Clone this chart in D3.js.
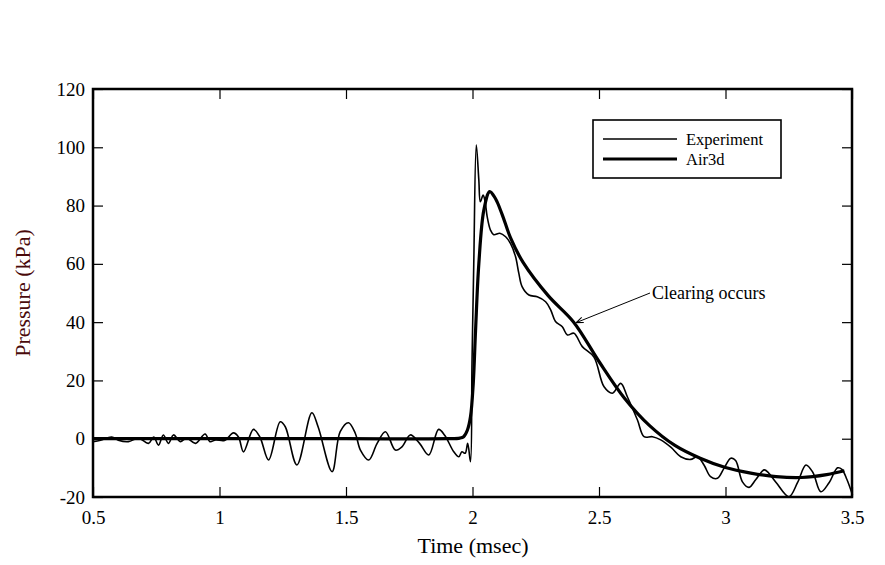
<!DOCTYPE html>
<html lang="en">
<head>
<meta charset="utf-8">
<script src="https://cdn.jsdelivr.net/npm/d3@7"></script>
<style>
  body { margin: 0; background: #fff; }
  text { font-family: "Liberation Serif", "Times New Roman", serif; }
  .tick text { font-size: 19px; fill: #000; }
  .tick line { stroke: #000; stroke-width: 1.2; }
</style>
</head>
<body>
<div id="chart"></div>
<script>
// time (msec) / pressure (kPa)
var expT = [0.5, 0.53, 0.574, 0.6, 0.64, 0.68, 0.719, 0.74, 0.759, 0.778, 0.798, 0.818, 0.845, 0.87, 0.905, 0.943, 0.962, 0.985, 1.02, 1.055, 1.075, 1.095, 1.134, 1.16, 1.194, 1.24, 1.26, 1.306, 1.365, 1.39, 1.445, 1.477, 1.51, 1.537, 1.557, 1.59, 1.623, 1.656, 1.695, 1.722, 1.754, 1.79, 1.827, 1.866, 1.89, 1.926, 1.946, 1.958, 1.971, 1.981, 1.992, 1.998, 2.005, 2.015, 2.025, 2.031, 2.042, 2.05, 2.058, 2.071, 2.084, 2.108, 2.131, 2.15, 2.17, 2.183, 2.196, 2.223, 2.256, 2.289, 2.309, 2.328, 2.355, 2.375, 2.401, 2.434, 2.48, 2.52, 2.553, 2.586, 2.612, 2.652, 2.678, 2.711, 2.744, 2.785, 2.823, 2.862, 2.889, 2.915, 2.941, 2.968, 2.995, 3.021, 3.04, 3.067, 3.093, 3.12, 3.153, 3.17, 3.2, 3.251, 3.285, 3.318, 3.345, 3.377, 3.41, 3.443, 3.46, 3.48, 3.502];
var expP = [-1, -0.5, 0.6, -0.5, -1, 0.2, -1.6, 0.6, -2.2, 1.3, -1.6, 1.3, -1, 0.2, -1.6, 1.6, -1, -0.4, -0.6, 2, 0.6, -4.5, 3.2, 0.5, -7.3, 5.8, 4.1, -9, 8.9, 4, -11.3, 2.4, 5.5, 1.8, -3.9, -7.3, -1.6, 2.4, -3.9, -2.7, 1.3, -1.5, -5.6, 3.2, 1.2, -4.5, -6.2, -4.5, -5, -1.6, -7.9, 25.9, 60, 100.8, 88.8, 81.3, 83.6, 81.3, 76.2, 71.6, 70, 70.5, 69.3, 67, 62.5, 56.8, 52.2, 49.3, 48.7, 47, 44.2, 40.2, 38.4, 35.6, 36.2, 31.6, 28, 17.8, 15.6, 19, 14.4, 6.4, 0.7, 0.7, -0.4, -3, -6.2, -7.1, -6.2, -9, -13, -13.6, -10, -6.7, -7.5, -14.8, -16.7, -14, -10.7, -11.7, -15, -19.9, -15, -9, -11.5, -18.2, -15, -10, -10.5, -14, -19.3];

var airT = [0.5, 1.0, 1.5, 1.9, 1.95, 1.965, 1.98, 1.992, 2.003, 2.012, 2.025, 2.045, 2.068, 2.09, 2.117, 2.15, 2.2, 2.3, 2.4, 2.5, 2.6, 2.7, 2.8, 2.9, 3.0, 3.1, 3.2, 3.3, 3.4, 3.47];
var airP = [0, 0, 0, 0, 0.2, 0.7, 3, 7.5, 19, 37, 60, 78.5, 84.8, 82.5, 77, 69, 60.5, 49, 40, 26.5, 14, 4.5, -2.3, -6.7, -9.9, -11.8, -13, -13.3, -12.3, -11];

var xTicks = [0.5, 1, 1.5, 2, 2.5, 3, 3.5];
var yTicks = [-20, 0, 20, 40, 60, 80, 100, 120];
var seriesNames = ["Experiment", "Air3d"];

var W = 885, H = 565;
var plot = {left: 93, right: 852, top: 89, bottom: 497};

var svg = d3.select("#chart").append("svg")
  .attr("width", W).attr("height", H);

var x = d3.scaleLinear().domain([0.5, 3.5]).range([plot.left, plot.right]);
var y = d3.scaleLinear().domain([-20, 120]).range([plot.bottom, plot.top]);

var plain = function(d){ return String(d); };

// axes with inward ticks on all four sides
var gx = svg.append("g").attr("transform", "translate(0," + plot.bottom + ")")
  .call(d3.axisBottom(x).tickValues(xTicks).tickSize(-10).tickPadding(13).tickFormat(plain));
var gy = svg.append("g").attr("transform", "translate(" + plot.left + ",0)")
  .call(d3.axisLeft(y).tickValues(yTicks).tickSize(-10).tickPadding(8).tickFormat(plain));
var gt = svg.append("g").attr("transform", "translate(0," + plot.top + ")")
  .call(d3.axisTop(x).tickValues(xTicks).tickSize(-10).tickFormat(""));
var gr = svg.append("g").attr("transform", "translate(" + plot.right + ",0)")
  .call(d3.axisRight(y).tickValues(yTicks).tickSize(-10).tickFormat(""));
[gx, gy, gt, gr].forEach(function(g){ g.select(".domain").remove(); });
gx.selectAll("text").attr("dy", "0.75em");

svg.append("rect")
  .attr("x", plot.left).attr("y", plot.top)
  .attr("width", plot.right - plot.left).attr("height", plot.bottom - plot.top)
  .attr("fill", "none").attr("stroke", "#000").attr("stroke-width", 2.5);

var line = d3.line()
  .x(function(d){ return x(d[0]); })
  .y(function(d){ return y(d[1]); })
  .curve(d3.curveCatmullRom.alpha(0.5));

svg.append("path")
  .datum(d3.zip(expT, expP))
  .attr("d", line)
  .attr("fill", "none").attr("stroke", "#000").attr("stroke-width", 1.6);

svg.append("path")
  .datum(d3.zip(airT, airP))
  .attr("d", line)
  .attr("fill", "none").attr("stroke", "#000").attr("stroke-width", 3.2);

// axis titles
svg.append("text")
  .attr("x", 473).attr("y", 553)
  .attr("text-anchor", "middle").style("font-size", "22px")
  .text("Time (msec)");
svg.append("text")
  .attr("transform", "translate(30,293) rotate(-90)")
  .attr("text-anchor", "middle").style("font-size", "22px")
  .attr("fill", "#4a0a0a")
  .text("Pressure (kPa)");

// legend
var lg = svg.append("g").attr("transform", "translate(593,120)");
lg.append("rect").attr("width", 188).attr("height", 58)
  .attr("fill", "#fff").attr("stroke", "#000").attr("stroke-width", 1.6);
seriesNames.forEach(function(name, i){
  lg.append("line").attr("x1", 10).attr("x2", 84)
    .attr("y1", 19 + i * 20).attr("y2", 19 + i * 20)
    .attr("stroke", "#000").attr("stroke-width", i ? 3.2 : 1.6);
  lg.append("text").attr("x", 93).attr("y", 25 + i * 20)
    .style("font-size", "16.5px").text(name);
});

// annotation
svg.append("defs").append("marker")
  .attr("id", "arr").attr("viewBox", "0 0 10 10")
  .attr("refX", 10).attr("refY", 5)
  .attr("markerWidth", 7).attr("markerHeight", 7)
  .attr("orient", "auto")
  .append("path").attr("d", "M0,1 L10,5 L0,9").attr("fill", "none").attr("stroke", "#000").attr("stroke-width", 1.5);
svg.append("line")
  .attr("x1", 650).attr("y1", 293)
  .attr("x2", x(2.41)).attr("y2", y(39.5) - 1)
  .attr("stroke", "#000").attr("stroke-width", 1)
  .attr("marker-end", "url(#arr)");
svg.append("text")
  .attr("x", 652).attr("y", 299)
  .style("font-size", "18px")
  .text("Clearing occurs");
</script>
</body>
</html>
